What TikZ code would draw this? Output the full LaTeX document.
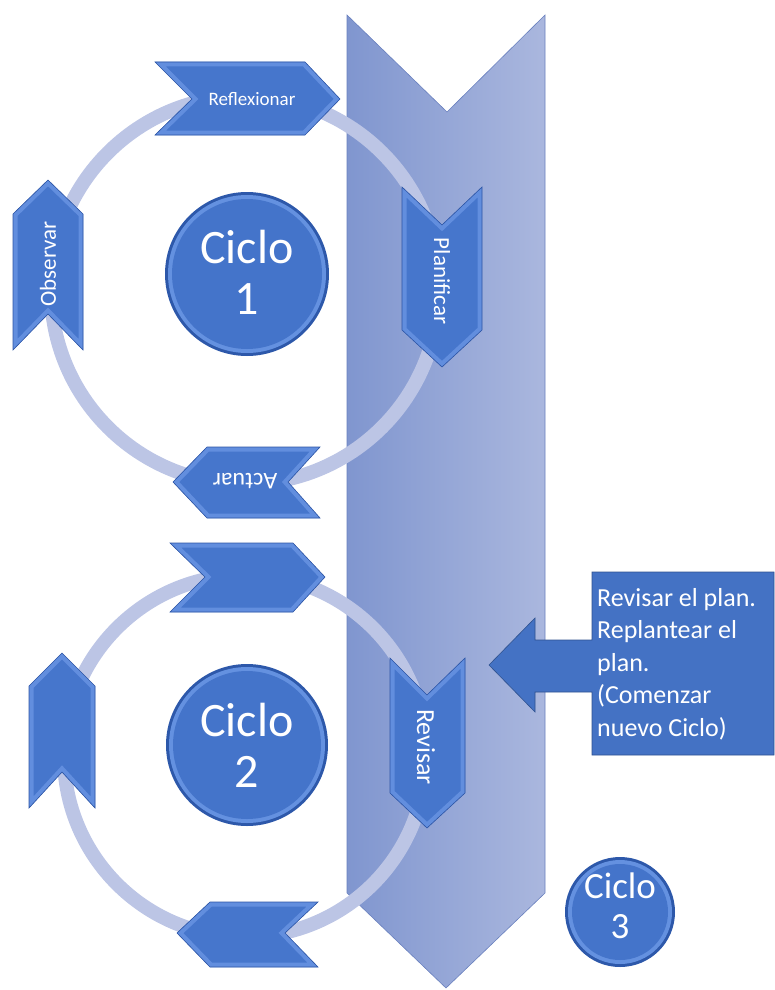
\documentclass[tikz,border=0pt]{standalone}
\usepackage{fontspec}
\setmainfont{Carlito}
\definecolor{bigL}{RGB}{128,150,207}
\definecolor{bigR}{RGB}{170,183,222}
\definecolor{bigEdge}{RGB}{105,128,190}
\definecolor{ringcol}{RGB}{188,197,229}
\definecolor{chevbody}{RGB}{70,118,204}
\definecolor{chevbevel}{RGB}{98,142,222}
\definecolor{chevedge}{RGB}{45,85,165}
\definecolor{circdark}{RGB}{45,88,170}
\definecolor{circrim}{RGB}{100,145,224}
\definecolor{circbody}{RGB}{68,116,202}
\definecolor{callblue}{RGB}{68,114,196}
\definecolor{calledge}{RGB}{47,82,143}
\newcommand{\mychev}[1]{%
  \begin{scope}\clip #1; \fill[chevbody] #1; \draw[line width=9pt, chevbevel, line join=miter] #1;\end{scope}
  \draw[chevedge, line width=0.6pt] #1;}
\newcommand{\mycirc}[2]{%
  \fill[circdark] (#1) circle (#2pt);
  \fill[circrim] (#1) circle (#2pt-3pt);
  \fill[circbody] (#1) circle (#2pt-7pt);}
\tikzset{
  chevlabel/.style={text=white, font=\fontsize{19}{21}\selectfont, inner sep=0pt},
  ciclolabel/.style={text=white, align=center, inner sep=0pt},
  ringline/.style={draw=ringcol, line width=14pt}
}
\begin{document}
\begin{tikzpicture}[x=1pt,y=-1pt]
\useasboundingbox (0,0) rectangle (774,990);
% big down chevron
\shade[left color=bigL, right color=bigR, draw=bigEdge, line width=0.6pt]
  (347,15)--(447,112)--(545,15)--(545,893)--(446,988)--(347,893)--cycle;
% rings
\draw[ringline] (245,290) circle (194pt);
\draw[ringline] (245,756) circle (181pt);
% cycle 1 chevrons
\mychev{(155,62)--(305,62)--(340,99)--(305,135)--(155,135)--(192,99)--cycle}
\node[chevlabel] (refl) at (252,99) {Reflexionar};
\mychev{(48,180)--(83,214)--(83,350)--(48,314)--(13,350)--(13,214)--cycle}
\node[chevlabel, rotate=90, font=\fontsize{23}{25}\selectfont] (obs) at (48,264) {Observar};
\mychev{(402,187)--(442,225)--(482,187)--(482,330)--(442,367)--(402,330)--cycle}
\node[chevlabel, rotate=-90, font=\fontsize{23}{25}\selectfont] (plan) at (442,281) {Planificar};
\mychev{(173,482)--(207,447)--(320,447)--(288,482)--(320,518)--(207,518)--cycle}
\node[chevlabel, rotate=180, font=\fontsize{24}{26}\selectfont] (act) at (245,481) {Actuar};
% cycle 2 chevrons
\mychev{(170,543)--(293,543)--(325,577)--(293,612)--(170,612)--(205,577)--cycle}
\mychev{(62,653)--(95,686)--(95,808)--(62,772)--(29,808)--(29,686)--cycle}
\mychev{(390,658)--(427,695)--(465,658)--(465,793)--(427,828)--(390,793)--cycle}
\node[chevlabel, rotate=-90, font=\fontsize{26}{28}\selectfont] (rev) at (426,747) {Revisar};
\mychev{(177,933)--(210,902)--(318,902)--(285,933)--(318,967)--(210,967)--cycle}
% cycle circles
\mycirc{247,274}{82}
\node[ciclolabel, font=\fontsize{48}{51}\selectfont] (c1) at (247,272) {Ciclo\\1};
\mycirc{247,745}{81}
\node[ciclolabel, font=\fontsize{48}{51}\selectfont] (c2) at (247,745) {Ciclo\\2};
\mycirc{620,912}{55}
\node[ciclolabel, font=\fontsize{37}{40}\selectfont] (c3) at (620,906) {Ciclo\\3};
% callout
\fill[callblue, draw=calledge, line width=0.6pt]
  (592,572)--(774,572)--(774,755)--(592,755)--(592,692)--(535,692)--(535,712)
  --(489,665)--(535,618)--(535,640)--(592,640)--cycle;
\node[text=white, align=left, anchor=north west, inner sep=0pt,
  font=\fontsize{26}{32.5}\selectfont] (call) at (597,588)
  {Revisar el plan.\\Replantear el\\plan.\\(Comenzar\\nuevo Ciclo)};
\end{tikzpicture}
\end{document}
